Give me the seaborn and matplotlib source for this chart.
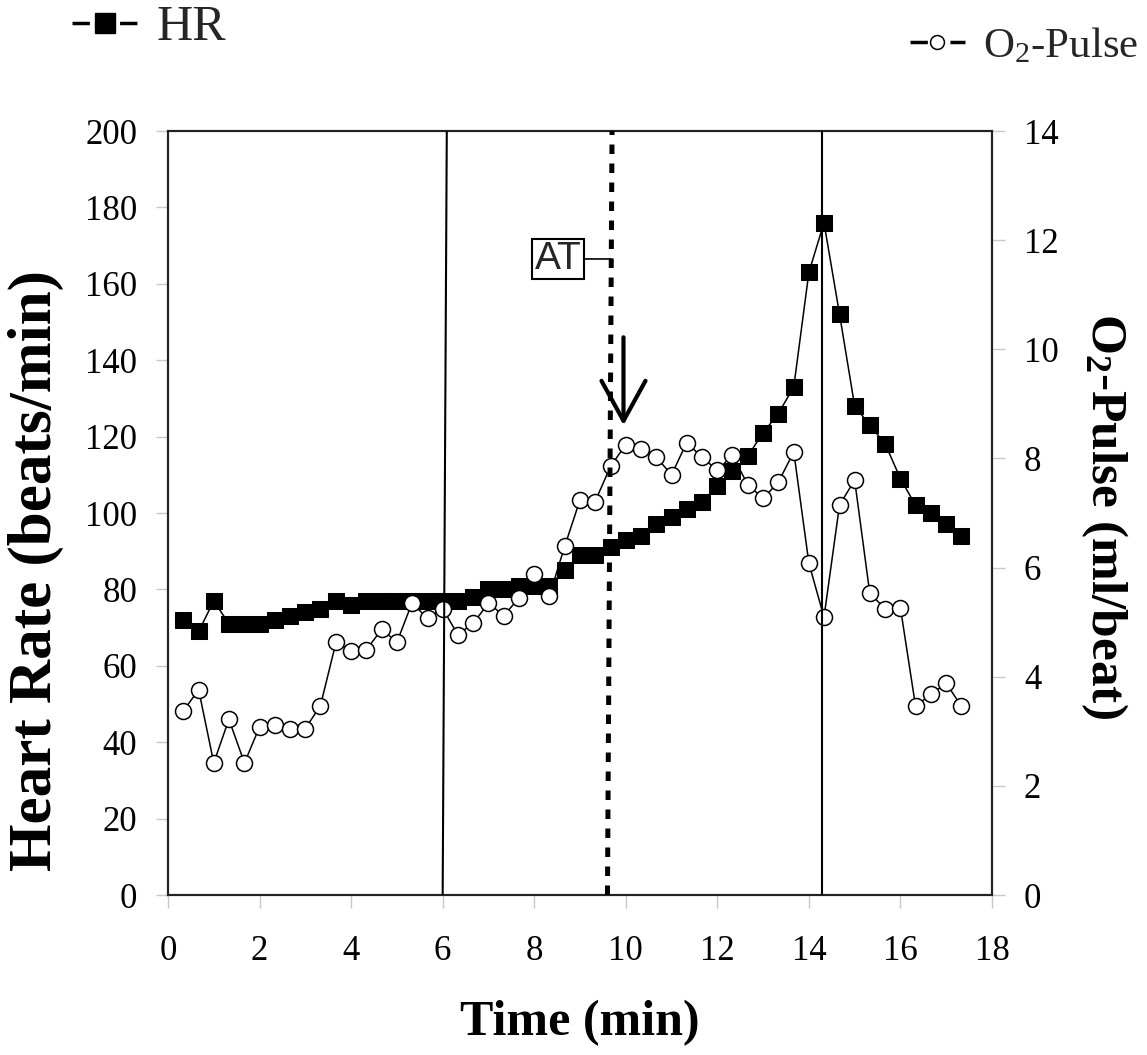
import matplotlib
matplotlib.use("Agg")
import matplotlib.pyplot as plt
from matplotlib.lines import Line2D
import pandas as pd
import seaborn as sns

# ---------------- data ----------------
time_min = [0.33, 0.67, 1.00, 1.33, 1.67, 2.00, 2.33, 2.67, 3.00, 3.33,
            3.67, 4.00, 4.33, 4.67, 5.00, 5.33, 5.67, 6.00, 6.33, 6.67,
            7.00, 7.33, 7.67, 8.00, 8.33, 8.67, 9.00, 9.33, 9.67, 10.00,
            10.33, 10.67, 11.00, 11.33, 11.67, 12.00, 12.33, 12.67, 13.00, 13.33,
            13.67, 14.00, 14.33, 14.67, 15.00, 15.33, 15.67, 16.00, 16.33, 16.67,
            17.00, 17.33]

heart_rate = [72, 69, 77, 71, 71, 71, 72, 73, 74, 75,
              77, 76, 77, 77, 77, 77, 77, 77, 77, 78,
              80, 80, 81, 81, 81, 85, 89, 89, 91, 93,
              94, 97, 99, 101, 103, 107, 111, 115, 121, 126,
              133, 163, 176, 152, 128, 123, 118, 109, 102, 100,
              97, 94]

o2_pulse = [3.37, 3.76, 2.42, 3.22, 2.42, 3.08, 3.11, 3.05, 3.05, 3.47,
            4.63, 4.47, 4.49, 4.87, 4.63, 5.35, 5.07, 5.25, 4.77, 4.98,
            5.35, 5.12, 5.44, 5.89, 5.48, 6.40, 7.24, 7.21, 7.86, 8.25,
            8.18, 8.02, 7.70, 8.29, 8.02, 7.78, 8.06, 7.51, 7.27, 7.56,
            8.12, 6.08, 5.09, 7.15, 7.60, 5.53, 5.24, 5.26, 3.46, 3.68,
            3.88, 3.46]

phase_start = (6.00, 6.09)      # slanted phase boundary (bottom, top)
phase_end = 14.28               # end-of-exercise boundary
at_line = (9.60, 9.70)          # anaerobic threshold line (bottom, top)
at_label_pos = (8.52, 166.5)
arrow_x, arrow_top, arrow_tip = 9.95, 146.0, 123.0

x_ticks = list(range(0, 19, 2))
hr_ticks = list(range(0, 201, 20))
o2_ticks = list(range(0, 15, 2))

df = pd.DataFrame({"Time": time_min, "HR": heart_rate, "O2": o2_pulse})

# ---------------- style ----------------
sns.set_style("white")
plt.rcParams["font.family"] = ["Liberation Serif", "DejaVu Serif"]
plt.rcParams["mathtext.fontset"] = "custom"
plt.rcParams["mathtext.rm"] = "Liberation Serif"
plt.rcParams["mathtext.it"] = "Liberation Serif:italic"
plt.rcParams["mathtext.bf"] = "Liberation Serif:bold"

W, H = 1147, 1055
fig = plt.figure(figsize=(W / 100, H / 100), dpi=100)
ax = fig.add_axes([168 / W, 1 - 895 / H, 824 / W, 764 / H])
ax2 = ax.twinx()

sns.lineplot(data=df, x="Time", y="HR", ax=ax, color="black", linewidth=1.1,
             marker="s", markersize=11, markerfacecolor="black",
             markeredgecolor="black", legend=False)
sns.lineplot(data=df, x="Time", y="O2", ax=ax2, color="black", linewidth=1.1,
             marker="o", markersize=11.5, markerfacecolor="white",
             markeredgecolor="black", markeredgewidth=1.1, legend=False)

# vertical reference lines (on top of markers)
xt = ax2.get_xaxis_transform()
ax2.plot(phase_start, [0, 1], transform=xt, color="black", lw=1.5, zorder=5)
ax2.plot([phase_end, phase_end], [0, 1], transform=xt, color="black", lw=1.5, zorder=5)
ax2.plot(at_line, [0, 1], transform=xt, color="black", lw=3.6,
         linestyle=(0, (1.9, 1.9)), zorder=5)

# AT label box with connector
frac = at_label_pos[1] / 200
x_at = at_line[0] + (at_line[1] - at_line[0]) * frac
ax.annotate("AT", xy=(x_at, at_label_pos[1]), xytext=at_label_pos,
            ha="center", va="center", fontsize=28, family="Liberation Sans",
            bbox=dict(boxstyle="square,pad=0.06", fc="white", ec="black", lw=1.5),
            arrowprops=dict(arrowstyle="-", color="black", lw=1.2,
                            shrinkA=0, shrinkB=0), zorder=6)

# arrow pointing at AT
ax.annotate("", xy=(arrow_x, arrow_tip), xytext=(arrow_x, arrow_top),
            arrowprops=dict(arrowstyle="->,head_length=0.4,head_width=0.22",
                            mutation_scale=72, lw=3, color="black",
                            shrinkA=0, shrinkB=0), zorder=6)

# axes limits / ticks
ax.set_xlim(0, 18)
ax.set_ylim(0, 200)
ax2.set_ylim(0, 14)
ax.set_xticks(x_ticks)
ax.set_yticks(hr_ticks)
ax2.set_yticks(o2_ticks)

tick_kw = dict(direction="out", length=9, width=1, color="#c8c8c8",
               labelsize=25, labelcolor="black")
ax.tick_params(axis="x", bottom=True, pad=20, **tick_kw)
ax.tick_params(axis="y", left=True, pad=13, **tick_kw)
ax2.tick_params(axis="y", right=True, pad=14, **tick_kw)

for a in (ax, ax2):
    for s in a.spines.values():
        s.set_visible(True)
        s.set_color("#222222")
        s.set_linewidth(1.5)

# axis labels
ax.set_xlabel("Time (min)", fontsize=36, fontweight="bold", color="black")
ax.xaxis.set_label_coords(0.5, -0.138)
ax.set_ylabel("Heart Rate (beats/min)", fontsize=44, fontweight="bold", color="black")
ax.yaxis.set_label_coords(-0.126, 0.425)
ax2.set_ylabel("O$_\\mathbf{2}$-Pulse (ml/beat)", fontsize=37, fontweight="bold",
               color="black", rotation=270, va="bottom")
ax2.yaxis.set_label_coords(1.106, 0.496)

# legends ("-■-" style handles: short dashes either side of the marker)
h_hr = Line2D([], [], color="black", lw=2.5, marker="s", markersize=14,
              markerfacecolor="black", markeredgecolor="black",
              linestyle=(0, (5.0, 8.7)))
h_o2 = Line2D([], [], color="black", lw=2.5, marker="o", markersize=10,
              markerfacecolor="white", markeredgecolor="black", markeredgewidth=1.1,
              linestyle=(0, (5.0, 6.5)))
leg1 = fig.legend([h_hr], ["HR"], loc="center left",
                  bbox_to_anchor=(72 / W, 1 - 28 / H), frameon=False, fontsize=36,
                  handlelength=1.3, handletextpad=0.4, borderpad=0, borderaxespad=0)
leg2 = fig.legend([h_o2], ["O$_\\mathrm{2}$-Pulse"], loc="center right",
                  bbox_to_anchor=(1138 / W, 1 - 46 / H), frameon=False, fontsize=31,
                  handlelength=1.3, handletextpad=0.4, borderpad=0, borderaxespad=0)

fig.savefig("out.png", dpi=100, facecolor="white")
